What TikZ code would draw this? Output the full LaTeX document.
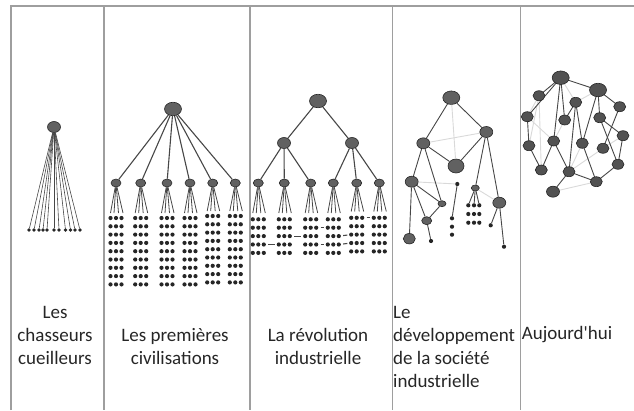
\documentclass[tikz,border=0pt]{standalone}
\usepackage{fontspec}
\setmainfont{Carlito}
\usepackage{tikz}
\usetikzlibrary{shapes.geometric}
\usetikzlibrary{positioning}

\tikzset{
  hub/.style={ellipse, draw=black!85, fill=black!62, line width=.6pt, inner sep=0pt},
  hubxl/.style={hub, minimum width=17pt, minimum height=13.5pt},
  hubl/.style={hub, minimum width=13pt, minimum height=11pt},
  hubm/.style={hub, minimum width=12pt, minimum height=10pt},
  hubs/.style={hub, minimum width=10pt, minimum height=8pt},
  hubxs/.style={hub, minimum width=8pt, minimum height=6pt},
  dot/.style={circle, fill=black!85, inner sep=0pt, minimum size=4.2pt},
  link/.style={draw=black!72, line width=1.1pt},
  leg/.style={draw=black!72, line width=.8pt},
  faint/.style={draw=black!15, line width=.9pt},
  frame/.style={draw=black!38, line width=1.2pt},
  caption/.style={font=\fontsize{19}{23}\selectfont, text=black!85, align=center, inner sep=0pt}
}

\begin{document}
\begin{tikzpicture}[x=1pt, y=-1pt]
  \useasboundingbox (0,0) rectangle (634,410);
  \draw[frame] (11,410) -- (11,6) -- (634,6);
  \foreach \x in {104, 250, 392.5, 520.5}
    \draw[frame] (\x,6) -- (\x,410);

  % hunters
  \node[hubl] (hc) at (54,127) {};
  \foreach \x [count=\i] in {29,34,39,43,47,54,59,65.5,70.5,75,80}{
    \node[dot, minimum size=3.6pt] (hc\i) at (\x,230) {};
    \draw[leg, line width=.6pt] (hc) -- (hc\i);
  }

  % first civilisations
  \node[hubxl] (pc) at (173,109) {};
  \foreach \x/\o [count=\i] in {116/0, 140.7/0, 167/0, 190/0, 212.7/-2, 235.3/-2}{
    \node[hubs] (pc\i) at (\x,183) {};
    \draw[link] (pc) -- (pc\i);
    \foreach \d [count=\j] in {-5.5,-2,2.5,7}{
      \coordinate (pc\i e\j) at (\x+\d,213+\o);
      \draw[leg] (pc\i) -- (pc\i e\j);
    }
    \foreach \r in {1,...,9}
      \foreach \c/\dx in {1/-5.5, 2/0, 3/5.5}
        \node[dot] (pc\i-\r-\c) at (\x+\dx,218+\o+8.3*\r-8.3) {};
  }

  % industrial revolution
  \node[hubxl] (ir) at (318,101) {};
  \node[hubl] (ia) at (284,143) {};
  \node[hubl] (ib) at (352,143) {};
  \draw[link] (ir) -- (ia);
  \draw[link] (ir) -- (ib);
  \foreach \x/\p/\o [count=\i] in {258.3/ia/0, 284.3/ia/0, 310.7/ia/0, 333.3/ib/0, 356.7/ib/-1.5, 379.3/ib/-1.5}{
    \node[hubs] (ir\i) at (\x,183) {};
    \draw[link] (\p) -- (ir\i);
    \foreach \d [count=\j] in {-5.5,-2,2.5,7}{
      \coordinate (ir\i e\j) at (\x+\d,213+\o);
      \draw[leg] (ir\i) -- (ir\i e\j);
    }
    \foreach \r in {1,...,5}
      \foreach \c/\dx in {1/-5.5, 2/0, 3/5.5}
        \node[dot] (ir\i-\r-\c) at (\x+\dx,219.3+\o+8.4*\r-8.4) {};
  }
  \foreach \a/\b/\r in {1/2/4, 2/3/3, 3/4/2, 3/4/4, 4/5/3, 4/5/4, 5/6/1}
    \draw[link, shorten <=2pt, shorten >=1.5pt] (ir\a-\r-3) -- (ir\b-\r-1);

  % industrial society
  \node[hubxl] (dA) at (451.3,97.7) {};
  \node[hubl] (dB) at (486.3,132) {};
  \node[hubl] (dC) at (423.3,143.3) {};
  \node[hubxl, minimum width=16pt, minimum height=14pt] (dD) at (456,166) {};
  \node[hubl] (dE) at (411.7,181.7) {};
  \node[dot] (dF) at (457.3,184) {};
  \node[hubxs] (dG) at (475.3,188) {};
  \node[hubxs] (dH) at (442,203.7) {};
  \node[hubl] (dI) at (499.3,202.7) {};
  \node[hubs] (dJ) at (426.7,220.7) {};
  \node[hubm, minimum height=10.5pt] (dK) at (409.3,238.7) {};
  \node[dot] (d1) at (431,241) {};
  \node[dot] (d2) at (452,218.3) {};
  \node[dot] (d3) at (452,226.7) {};
  \node[dot] (d4) at (452,234.7) {};
  \node[dot] (d5) at (490.7,225.3) {};
  \node[dot] (d6) at (504,246.7) {};
  \foreach \r/\y in {1/205.3, 2/214, 3/222.7}
    \foreach \c/\x in {1/468.3, 2/474, 3/479.3}
      \node[dot] (dg\r\c) at (\x,\y) {};
  \foreach \a/\b in {dA/dD, dC/dB, dE/dF, dG/dI}
    \draw[faint] (\a) -- (\b);
  \foreach \a/\b in {dA/dC, dA/dB, dB/dD, dC/dD, dC/dE, dC/dH, dE/dH, dE/dJ, dE/dK, dH/dJ, dJ/d1,
                     dB/dG, dB/dI, dI/d5, dI/d6, dF/d2, dG/dg11, dG/dg12, dG/dg13}
    \draw[link, line width=.9pt] (\a) -- (\b);

  % today
  \foreach \x/\y/\s [count=\i] in {560.7/77.7/hubxl, 598/90/hubxl, 539/95.7/hubm, 575.7/102.3/hubm,
      619.7/106.7/hubm, 527.3/116.7/hubm, 564.7/120/hubm, 599.7/117.7/hubm, 623/135.7/hubm,
      553.7/141/hubm, 582.3/143.3/hubm, 529/145.7/hubm, 603/148.3/hubm, 618/164.3/hubm,
      541.3/170/hubm, 569/171.7/hubm, 596.3/181.7/hubm, 553/191.7/hubl}
    \coordinate (n\i) at (\x,\y);
  \foreach \a/\b in {1/4, 2/4, 3/6, 3/12, 3/15, 7/10, 13/9, 16/13, 18/17, 11/16, 6/10}
    \draw[faint] (n\a) -- (n\b);
  \foreach \a/\b in {1/2, 1/3, 1/6, 1/7, 1/10, 2/5, 2/8, 2/11, 4/7, 4/11, 4/16, 6/12, 12/15,
                     10/15, 10/16, 11/17, 16/17, 16/18, 17/14, 14/9, 8/14, 8/9, 5/13}
    \draw[link, line width=.9pt] (n\a) -- (n\b);
  \foreach \x/\y/\s [count=\i] in {560.7/77.7/hubxl, 598/90/hubxl, 539/95.7/hubm, 575.7/102.3/hubm,
      619.7/106.7/hubm, 527.3/116.7/hubm, 564.7/120/hubm, 599.7/117.7/hubm, 623/135.7/hubm,
      553.7/141/hubm, 582.3/143.3/hubm, 529/145.7/hubm, 603/148.3/hubm, 618/164.3/hubm,
      541.3/170/hubm, 569/171.7/hubm, 596.3/181.7/hubm, 553/191.7/hubl}
    \node[\s, fill=black!68] (m\i) at (n\i) {};

  \node[caption] (t1) at (55,335) {Les\\chasseurs\\cueilleurs};
  \node[caption] (t2) at (175,346.5) {Les premières\\civilisations};
  \node[caption] (t3) at (318,346.5) {La révolution\\industrielle};
  \node[caption, anchor=west, align=left] (t4) at (393,346.5) {Le\\développement\\de la société\\industrielle};
  \node[caption] (t5) at (567,335) {Aujourd\textquotesingle hui};
\end{tikzpicture}
\end{document}
